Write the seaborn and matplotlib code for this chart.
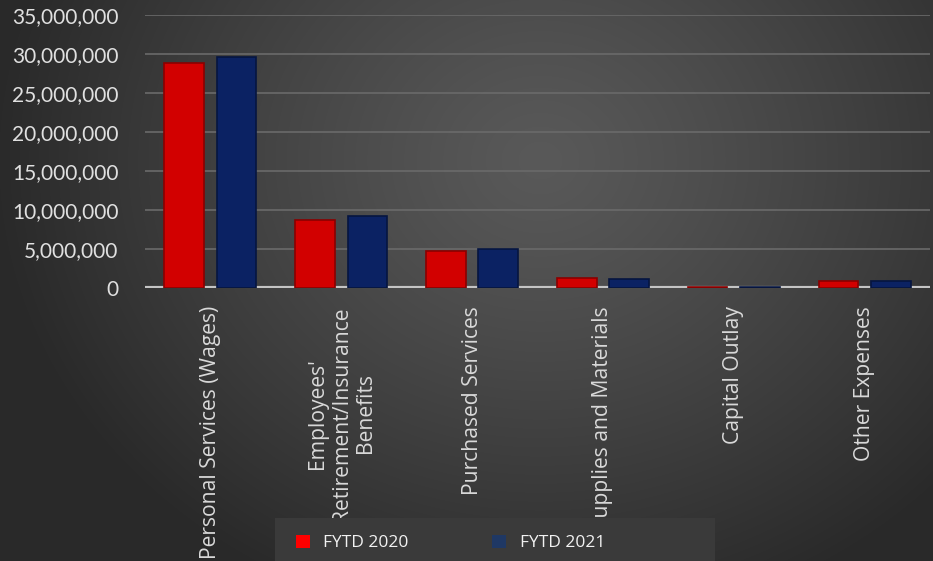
import numpy as np
import pandas as pd
import matplotlib
matplotlib.use("Agg")
import matplotlib.pyplot as plt
import seaborn as sns
from matplotlib.patches import Rectangle, Patch
from matplotlib.ticker import FuncFormatter

categories = ["Personal Services (Wages)",
              "Employees'\nRetirement/Insurance\nBenefits",
              "Purchased Services",
              "Supplies and Materials",
              "Capital Outlay",
              "Other Expenses"]
fytd_2020 = [28850000, 8700000, 4750000, 1280000, 150000, 900000]
fytd_2021 = [29650000, 9270000, 5000000, 1150000, 140000, 850000]
series_names = ["FYTD 2020", "FYTD 2021"]
y_ticks = [0, 5000000, 10000000, 15000000, 20000000, 25000000, 30000000, 35000000]

df = pd.DataFrame({
    "Category": categories * 2,
    "Series": [series_names[0]] * len(categories) + [series_names[1]] * len(categories),
    "Value": fytd_2020 + fytd_2021,
})

sns.set_style("dark")
plt.rcParams["font.family"] = ["Lato", "DejaVu Sans"]

W, H = 933, 561
fig = plt.figure(figsize=(W / 100, H / 100), dpi=100)
fig.patch.set_facecolor("#333333")

# radial gradient background
bg = fig.add_axes([0, 0, 1, 1], zorder=-10)
yy, xx = np.mgrid[0:H, 0:W]
cx, cy = 540, 160
d = np.sqrt(((xx - cx) / 540.0) ** 2 + ((yy - cy) / 470.0) ** 2)
d = np.clip(d, 0, 1)
inner, outer = 0x59 / 255, 0x2a / 255
val = inner + (outer - inner) * d ** 1.2
bg.imshow(np.dstack([val, val, val]), aspect="auto", extent=[0, 1, 0, 1], origin="upper")
bg.set_axis_off()

ax = fig.add_axes([145 / W, 1 - 288 / H, (930 - 145) / W, (288 - 15) / H])
ax.set_facecolor("none")

palette = {"FYTD 2020": "#d20000", "FYTD 2021": "#0b2263"}
edges = {"FYTD 2020": "#8a0000", "FYTD 2021": "#061540"}
sns.barplot(data=df, x="Category", y="Value", hue="Series", order=categories,
            hue_order=series_names, palette=palette, width=0.8, gap=0.24,
            saturation=1, ax=ax, legend=False, zorder=5)

for cont, name in zip(ax.containers, series_names):
    for bar in cont:
        bar.set_edgecolor(edges[name])
        bar.set_linewidth(1.2)

ax.set_ylim(0, 35000000)
ax.set_xlim(-0.5, len(categories) - 0.5)
ax.set_yticks(y_ticks)
ax.yaxis.set_major_formatter(FuncFormatter(lambda v, p: f"{int(v):,}"))
ax.grid(axis="y", color="#6a6a6a", linewidth=1.2, zorder=0)
ax.grid(axis="x", visible=False)
ax.axhline(0, color="#c4c4c4", linewidth=3, zorder=4)
for s in ax.spines.values():
    s.set_visible(False)

ax.tick_params(axis="y", length=0, pad=19, labelsize=15, labelcolor="#e0e0e0")
ax.tick_params(axis="x", length=0, pad=13, labelsize=15.2, labelcolor="#d9d9d9")
ax.set_xticks(range(len(categories)))
ax.set_xticklabels(categories, rotation=90, va="top", ha="center",
                   family=["Open Sans", "DejaVu Sans"], linespacing=1.2)
ax.set_xlabel("")
ax.set_ylabel("")

# legend panel
fig.patches.append(Rectangle((275 / W, 0), (715 - 275) / W, (561 - 518) / H,
                             transform=fig.transFigure, facecolor="#3a3a3a",
                             edgecolor="none", zorder=1))
handles = [Patch(facecolor="#ff0000", edgecolor="none", label=series_names[0]),
           Patch(facecolor="#1f3864", edgecolor="none", label=series_names[1])]
leg = fig.legend(handles=handles, loc="center left", ncol=2,
                 bbox_to_anchor=(280 / W, 1 - 543 / H), frameon=False,
                 handlelength=0.8, handleheight=0.8,
                 handletextpad=0.8, columnspacing=4.8, labelcolor="#f2f2f2",
                 prop={"family": ["Open Sans", "DejaVu Sans"], "size": 12.5})
leg.set_zorder(5)

fig.savefig("out.png", dpi=100, facecolor=fig.get_facecolor())
